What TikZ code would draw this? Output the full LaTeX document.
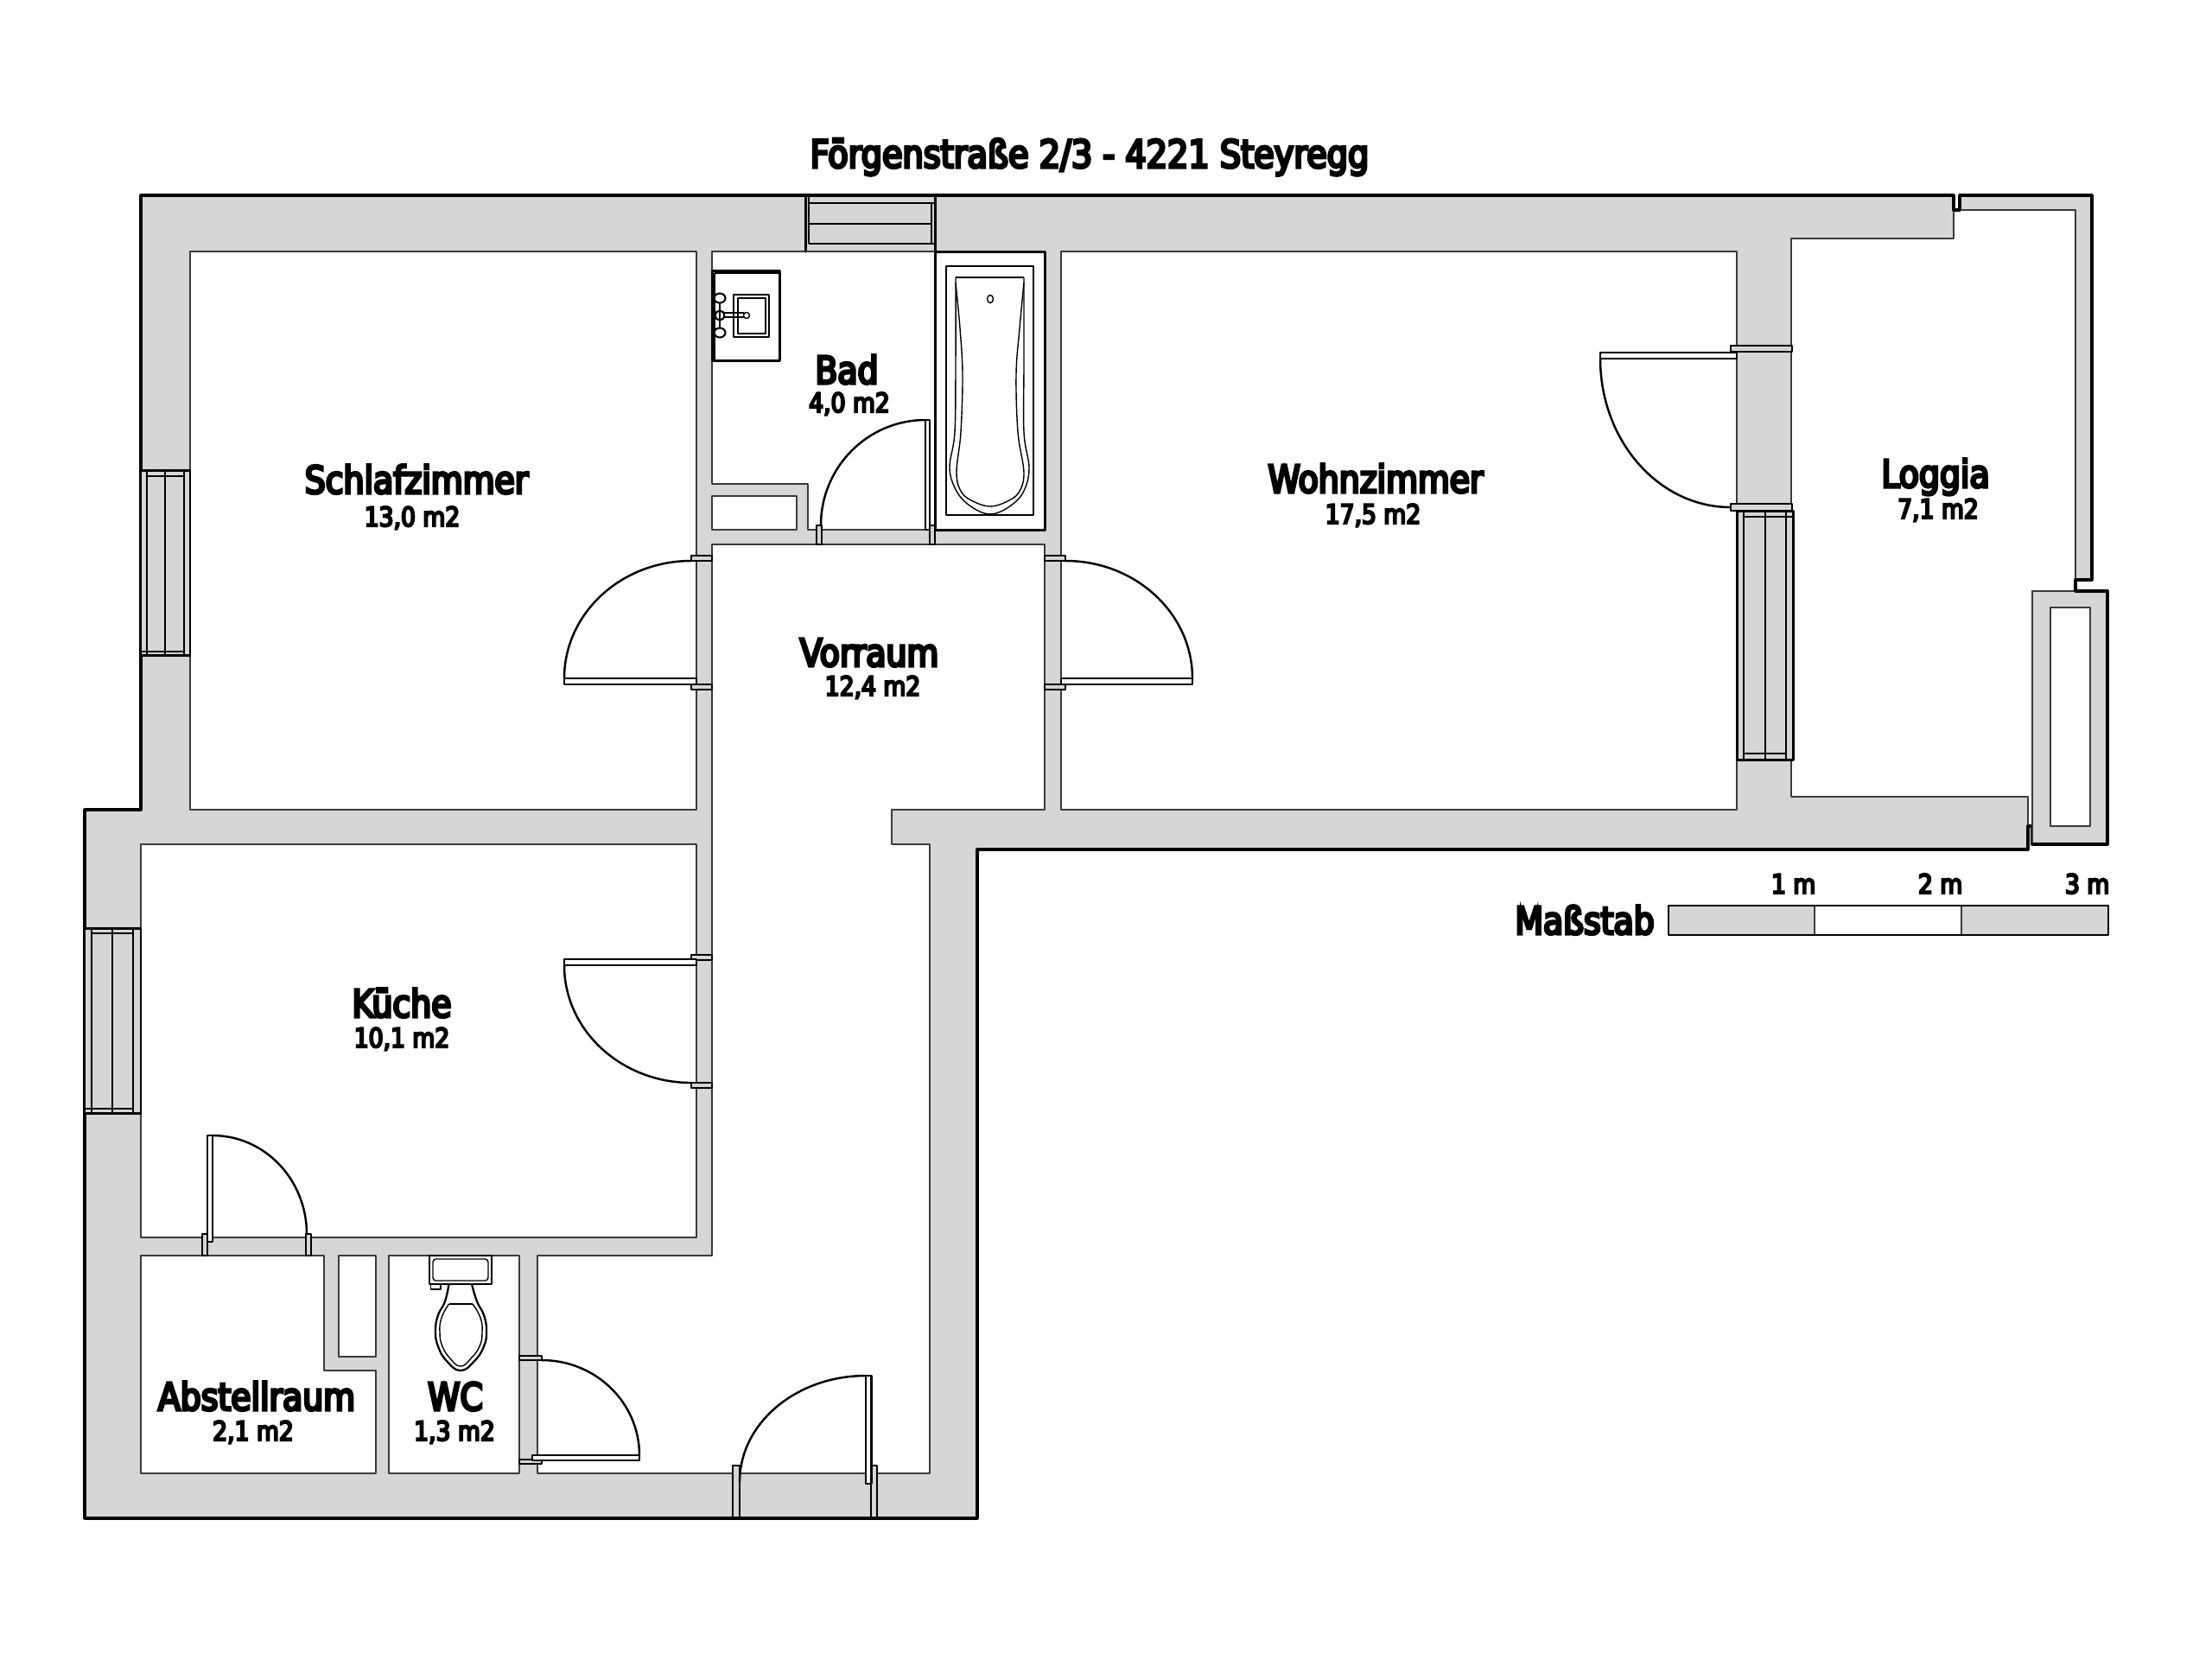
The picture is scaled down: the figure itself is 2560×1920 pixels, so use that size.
\documentclass[tikz,border=0pt]{standalone}
\usepackage{fontspec}
\usetikzlibrary{calc}
\newfontfamily\labfont[FakeStretch=0.86,FakeBold=7]{DejaVu Sans}
\definecolor{wallgray}{HTML}{D6D6D4}
\definecolor{thinline}{HTML}{3A3A3A}
\tikzset{
  thickline/.style={draw=black,line width=0.9pt,line join=round,line cap=round},
  thinwall/.style={draw=thinline,line width=0.55pt,line join=round},
  fineline/.style={draw=black,line width=0.4pt,line join=round},
  roomwhite/.style={fill=white,thinwall},
  leaf/.style={fill=white,thickline,line width=0.8pt},
  hinge/.style={fill=wallgray,thickline,line width=0.8pt},
  swing/.style={draw=black,line width=0.7pt,line cap=round},
  bigname/.style={font=\labfont\fontsize{12.5pt}{14pt}\selectfont,anchor=base,inner sep=0pt},
  smallname/.style={font=\labfont\fontsize{8.8pt}{10pt}\selectfont,anchor=base,inner sep=0pt},
}
\newcommand{\doorswing}[3]{\draw[swing] (#1) .. controls ($(#1)!.5523!(#2)$) and ($(#3)!.5523!(#2)$) .. (#3);}
\newcommand{\winframe}[8]{%
  \path[fill=wallgray] (#1,#2) rectangle (#3,#4);
  \draw[fineline] (#5,#2) -- (#5,#4) (#6,#2) -- (#6,#4) (#7,#2) -- (#7,#4);
  #8
  \draw[thickline,line width=0.85pt] (#1,#2) rectangle (#3,#4);
}
\begin{document}
\begin{tikzpicture}[x=0.01cm,y=-0.01cm]
\useasboundingbox (0,0) rectangle (2560,1920);
\path[fill=white] (0,0) rectangle (2560,1920);

% walls
\path[fill=wallgray] (163,226) -- (2261,226) -- (2261,276) -- (2073,276) -- (2073,922) -- (2347,922) -- (2347,983) -- (1131,983) -- (1131,1757) -- (98,1757) -- (98,937) -- (163,937) -- cycle;
\path[fill=wallgray] (2268,226) -- (2421,226) -- (2421,671) -- (2402,671) -- (2402,243) -- (2268,243) -- cycle;

% inner edges of the outside walls
\draw[thinwall] (2261,243) -- (2261,276) -- (2073,276) -- (2073,922) -- (2347,922) -- (2347,956);
\draw[thinwall] (2268,243) -- (2402,243) -- (2402,671);

% outside edges
\draw[thickline] (2261,226) -- (163,226) -- (163,937) -- (98,937) -- (98,1757) -- (1131,1757) -- (1131,983) -- (2347,983) -- (2347,956) -- (2352,956) -- (2352,977);
\draw[thickline] (2261,226) -- (2261,243) -- (2268,243) -- (2268,226) -- (2421,226) -- (2421,671) -- (2402,671) -- (2402,684);

% rooms
\draw[roomwhite] (220,291) rectangle (806,937);
\draw[roomwhite] (1228,291) rectangle (2010,937);
\draw[roomwhite] (163,977) rectangle (806,1432);
\draw[roomwhite] (163,1453) -- (375,1453) -- (375,1586) -- (435,1586) -- (435,1705) -- (163,1705) -- cycle;
\draw[roomwhite] (392,1453) rectangle (435,1570);
\draw[roomwhite] (450,1453) rectangle (601,1705);
\draw[roomwhite] (824,630) -- (1209,630) -- (1209,937) -- (1032,937) -- (1032,977) -- (1076,977) -- (1076,1705) -- (622,1705) -- (622,1453) -- (824,1453) -- cycle;
\draw[roomwhite] (824,291) -- (1209,291) -- (1209,613) -- (935,613) -- (935,560) -- (824,560) -- cycle;
\draw[roomwhite] (824,574) rectangle (922,613);

% bathroom: tub side
\draw[thickline,line width=0.85pt] (1082,291) -- (1209,291) -- (1209,613) -- (1082,613) -- cycle;

% bathtub
\draw[fineline] (1095,308) rectangle (1196,596);
\draw[fineline] (1106,321) -- (1185,321);
\draw[fineline] plot[smooth,tension=0.6] coordinates {(1106,321) (1106,420) (1105,500) (1099,542) (1108,570) (1125,587) (1146,595) (1167,587) (1184,570) (1191,542) (1185,500) (1185,420) (1185,321)};
\draw[fineline] plot[smooth,tension=0.6] coordinates {(1106,327) (1111,380) (1114,433) (1112,500) (1107,547) (1113,570) (1128,581) (1146,586) (1164,581) (1179,570) (1185,547) (1178,500) (1176,433) (1180,380) (1185,327)};
\draw[fineline] (1146,346) ellipse (3.5 and 4.5);

% wash basin
\draw[thickline,line width=0.85pt] (824,313) rectangle (902,417);
\draw[fineline] (827,316) -- (902,316) (827,316) -- (827,417);
\draw[fineline] (849,341) rectangle (890,390);
\draw[fineline] (854,345) rectangle (886,386);
\draw[thickline,line width=0.6pt] (833,352) -- (833,378);
\draw[thickline,line width=0.6pt] (833,345) ellipse (6.5 and 5.5);
\draw[thickline,line width=0.6pt] (833,385) ellipse (6.5 and 5.5);
\draw[thickline,line width=0.6pt] (833,365) ellipse (5.5 and 5.5);
\draw[thickline,line width=0.6pt] (838,362) rectangle (861,367);
\draw[fineline,fill=white] (864,365) circle (3.5);

% WC
\draw[thickline,line width=0.8pt] (497,1453) rectangle (569,1486);
\draw[fineline,rounded corners=1pt] (501,1457) rectangle (565,1482);
\draw[fineline] (498.5,1486) rectangle (510,1492);
\draw[thickline,line width=0.65pt] plot[smooth,tension=0.8] coordinates {(519.5,1486) (515,1506) (507,1522) (504,1540) (507,1558) (517,1575) (533,1586) (549,1575) (560,1558) (563,1540) (560,1522) (552,1506) (546,1486)};
\draw[fineline] (519.5,1509) -- (547,1509);
\draw[fineline] plot[smooth,tension=0.8] coordinates {(519.5,1509) (511,1525) (509,1542) (512,1558) (521,1572) (533,1581) (545,1572) (555,1558) (558,1542) (556,1525) (547,1509)};

% windows
\winframe{163}{544.5}{220}{758}{170}{191}{213}{\draw[fineline] (170,551) -- (213,551) (163,754) -- (213,754);}
\winframe{98}{1074}{163}{1288}{106}{130}{154}{\draw[fineline] (106,1080) -- (154,1080) (98,1283) -- (154,1283);}
\winframe{2010}{591}{2075}{879}{2018}{2043}{2067}{\draw[fineline] (2018,598) -- (2075,598) (2018,872) -- (2067,872);}
% top window
\path[fill=wallgray] (932,226) rectangle (1082,291);
\draw[fineline] (936,226) -- (936,282) (1078,235) -- (1078,282);
\draw[fineline] (936,235) -- (1082,235) (936,259) -- (1078,259) (936,282) -- (1082,282);
\draw[thickline,line width=0.85pt] (932,291) -- (932,226) (1082,226) -- (1082,291);
\draw[thinwall] (932,291) -- (1082,291);
\draw[thickline] (932,226) -- (1082,226);

% loggia box
\draw[fill=wallgray,thinwall] (2352,684) rectangle (2439,977);
\draw[thickline] (2352,977) -- (2439,977) -- (2439,684) -- (2402,684);
\draw[roomwhite] (2373,703) rectangle (2419,956);

% doors
\draw[hinge] (800,643) rectangle (824,649);
\draw[hinge] (800,792) rectangle (824,798);
\draw[leaf] (653,785) rectangle (806,792);
\doorswing{653,785}{653,649}{800,649}
\draw[hinge] (1209,643) rectangle (1233,649);
\draw[hinge] (1209,792) rectangle (1233,798);
\draw[leaf] (1228,785) rectangle (1380,792);
\doorswing{1380,785}{1380,649}{1233,649}
\draw[hinge] (2003,400) rectangle (2074,407);
\draw[hinge] (2003,583) rectangle (2074,591);
\draw[leaf] (1852,408) rectangle (2010,415);
\doorswing{1852,415}{1852,587}{2003,587}
\draw[hinge] (800,1105) rectangle (824,1111);
\draw[hinge] (800,1253) rectangle (824,1259);
\draw[leaf] (653,1110) rectangle (806,1117);
\doorswing{653,1117}{653,1253}{800,1253}
\draw[hinge] (234,1428) rectangle (240,1453);
\draw[hinge] (354,1428) rectangle (360,1453);
\draw[leaf] (240,1314) rectangle (246,1437);
\doorswing{246,1314}{355,1314}{355,1428}
\draw[hinge] (601,1569) rectangle (627,1574);
\draw[hinge] (601,1689) rectangle (627,1694);
\draw[leaf] (616,1684) rectangle (740,1690);
\doorswing{627,1574}{740,1574}{740,1684}
\draw[hinge] (848,1696) rectangle (856,1756);
\draw[hinge] (1008,1696) rectangle (1015,1756);
\draw[leaf] (1002,1592) rectangle (1008.5,1717);
\doorswing{1002,1592}{856,1592}{856,1715}
\draw[hinge] (945,608) rectangle (951,630);
\draw[hinge] (1076,608) rectangle (1082,630);
\draw[leaf] (1071,486) rectangle (1076,613);
\doorswing{1071,486}{950,486}{950,608}

% scale bar
\path[fill=wallgray] (1931,1048) rectangle (2100,1082);
\path[fill=white] (2100,1048) rectangle (2270,1082);
\path[fill=wallgray] (2270,1048) rectangle (2440,1082);
\draw[thinwall] (2100,1048) -- (2100,1082) (2270,1048) -- (2270,1082);
\draw[thickline,line width=0.8pt] (1931,1048) rectangle (2440,1082);

% texts
\node[font=\labfont\fontsize{12.65pt}{14pt}\selectfont,anchor=base,inner sep=0pt] (title) at (1261,194) {Förgenstraße 2/3 - 4221 Steyregg};
\node[bigname] (schlaf) at (482,571) {Schlafzimmer};
\node[smallname] (schlafa) at (477,609) {13,0 m2};
\node[bigname] (bad) at (980,444) {Bad};
\node[smallname] (bada) at (983,477) {4,0 m2};
\node[bigname] (wohn) at (1592,570) {Wohnzimmer};
\node[smallname] (wohna) at (1589,606) {17,5 m2};
\node[bigname] (loggia) at (2240,564) {Loggia};
\node[smallname] (loggiaa) at (2243,600) {7,1 m2};
\node[bigname] (vor) at (1006,771) {Vorraum};
\node[smallname] (vora) at (1010,805) {12,4 m2};
\node[bigname] (kueche) at (465,1177) {Küche};
\node[smallname] (kuechea) at (465,1212) {10,1 m2};
\node[bigname] (abst) at (297,1632) {Abstellraum};
\node[smallname] (absta) at (293,1667) {2,1 m2};
\node[bigname] (wc) at (527,1632) {WC};
\node[smallname] (wca) at (526,1667) {1,3 m2};
\node[bigname] (mass) at (1834,1081) {Maßstab};
\node[smallname,anchor=base east] (m1) at (2102,1034) {1 m};
\node[smallname,anchor=base east] (m2) at (2272,1034) {2 m};
\node[smallname,anchor=base east] (m3) at (2442,1034) {3 m};
\end{tikzpicture}
\end{document}
